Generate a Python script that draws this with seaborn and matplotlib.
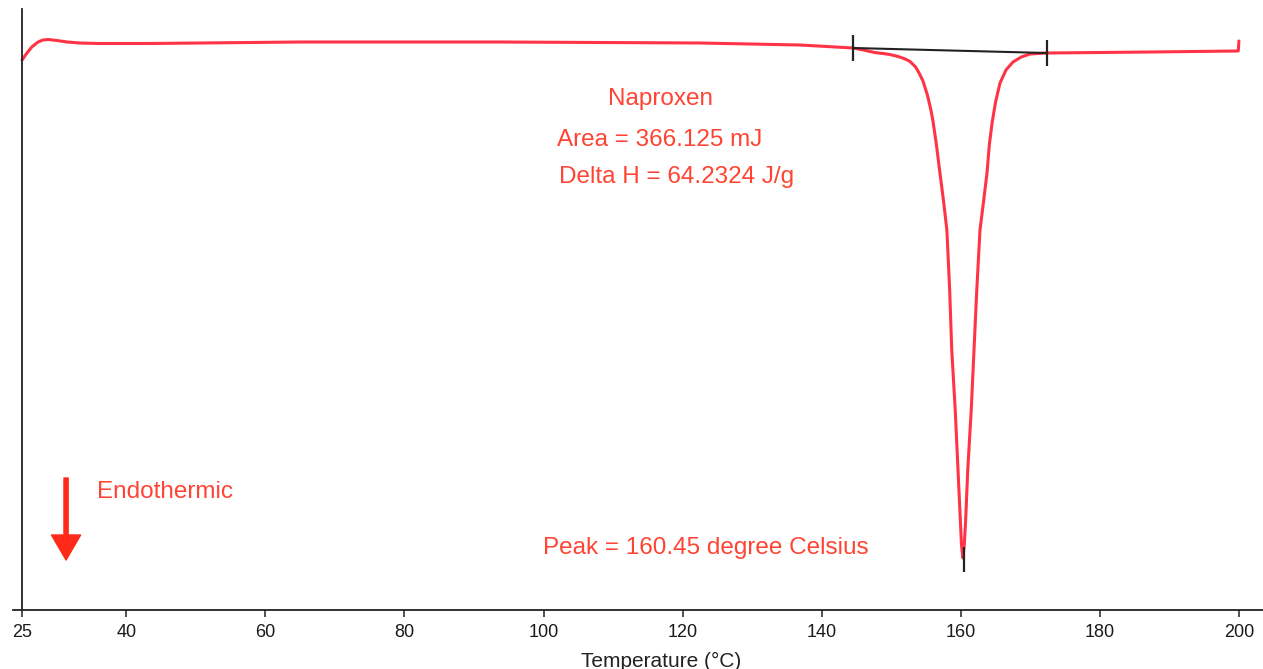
import matplotlib
matplotlib.use("Agg")
import matplotlib.pyplot as plt
import seaborn as sns
import pandas as pd

# DSC trace of naproxen (heat flow in arbitrary units)
temperature = [25.0, 25.6, 26.4, 27.3, 28.0, 28.74, 30.0, 31.5, 33.3, 36.0,
               43.4, 65.0, 93.7, 122.5, 136.9, 144.5, 146.0, 147.6, 148.8,
               149.8, 151.0, 152.0, 152.7, 153.5, 154.0, 154.56, 155.2, 155.7,
               156.0, 156.5, 157.0, 157.5, 158.0, 158.4, 158.7, 159.2, 159.6,
               159.9, 160.1, 160.3, 160.5, 160.7, 161.0, 161.5, 161.9, 162.3,
               162.76, 163.3, 163.77, 164.1, 164.5, 165.0, 165.64, 166.5,
               167.5, 168.7, 169.95, 172.4, 187.2, 199.9, 200.0]
heat_flow = [55.0, 55.6, 56.3, 56.8, 57.0, 57.05, 56.95, 56.8, 56.7, 56.65,
             56.65, 56.8, 56.8, 56.7, 56.5, 56.2, 56.0, 55.75, 55.65,
             55.55, 55.35, 55.1, 54.85, 54.3, 53.7, 52.9, 51.5, 50.0,
             48.9, 46.5, 43.7, 41.0, 38.0, 32.0, 26.0, 20.0, 14.0,
             9.5, 6.5, 5.2, 6.5, 9.0, 14.0, 20.0, 26.0, 32.0,
             38.0, 41.0, 43.7, 46.5, 48.7, 50.8, 52.7, 54.0,
             54.8, 55.3, 55.6, 55.7, 55.8, 55.9, 56.9]

# integration baseline and limit markers
baseline_t = [144.5, 172.4]
baseline_hf = [56.2, 55.7]
limit_t = [144.5, 172.4]
limit_lo = [54.9, 54.4]
limit_hi = [57.5, 57.0]
peak_t = 160.45
peak_lo, peak_hi = 3.8, 6.3

xticks = [25, 40, 60, 80, 100, 120, 140, 160, 180, 200]

red = "#ff3346"
txt_red = "#ff4433"

df = pd.DataFrame({"Temperature": temperature, "HeatFlow": heat_flow})

sns.set_style("white")
plt.rcParams["font.family"] = ["Liberation Sans", "DejaVu Sans"]

fig = plt.figure(figsize=(12.63, 6.69), dpi=100)
ax = fig.add_axes([13 / 1263, 0.08819, 1 - 13 / 1263, 0.98655 - 0.08819])

sns.lineplot(data=df, x="Temperature", y="HeatFlow", sort=False, color=red,
             linewidth=2.2, ax=ax)

ax.plot(baseline_t, baseline_hf, color="#222222", linewidth=1.5)
ax.vlines(limit_t, limit_lo, limit_hi, color="#222222", linewidth=1.6)
ax.vlines([peak_t], [peak_lo], [peak_hi], color="#222222", linewidth=1.6)

ax.set_xlim(23.7, 203.46)
ax.set_ylim(0, 60.1)
ax.spines["left"].set_position(("data", 25))
ax.spines["right"].set_visible(False)
ax.spines["top"].set_visible(False)
for s in ["left", "bottom"]:
    ax.spines[s].set_color("#222222")
    ax.spines[s].set_linewidth(1.3)

ax.set_xticks(xticks)
ax.set_yticks([])
ax.tick_params(axis="x", direction="out", length=5, width=1.2, color="#333333",
               labelsize=13, labelcolor="#1a1a1a", pad=5, bottom=True)
ax.set_xlabel("Temperature (°C)", fontsize=15, color="#222222")
ax.xaxis.set_label_coords((661 - 13) / 1250, -0.070)
ax.set_ylabel("")

fs = 17.5
ax.text(116.75, 51.1, "Naproxen", color=txt_red, fontsize=fs, ha="center", va="center")
ax.text(101.9, 47.0, "Area = 366.125 mJ", color=txt_red, fontsize=fs, ha="left", va="center")
ax.text(102.2, 43.3, "Delta H = 64.2324 J/g", color=txt_red, fontsize=fs, ha="left", va="center")
ax.text(99.9, 6.2, "Peak = 160.45 degree Celsius", color=txt_red, fontsize=fs, ha="left", va="center")
ax.text(35.8, 11.8, "Endothermic", color=txt_red, fontsize=fs, ha="left", va="center")

ax.annotate("", xy=(31.33, 5.0), xytext=(31.33, 13.2),
            arrowprops=dict(width=3, headwidth=21, headlength=18, color="#ff2a1a",
                            shrink=0))

fig.savefig("out.png", dpi=100)
